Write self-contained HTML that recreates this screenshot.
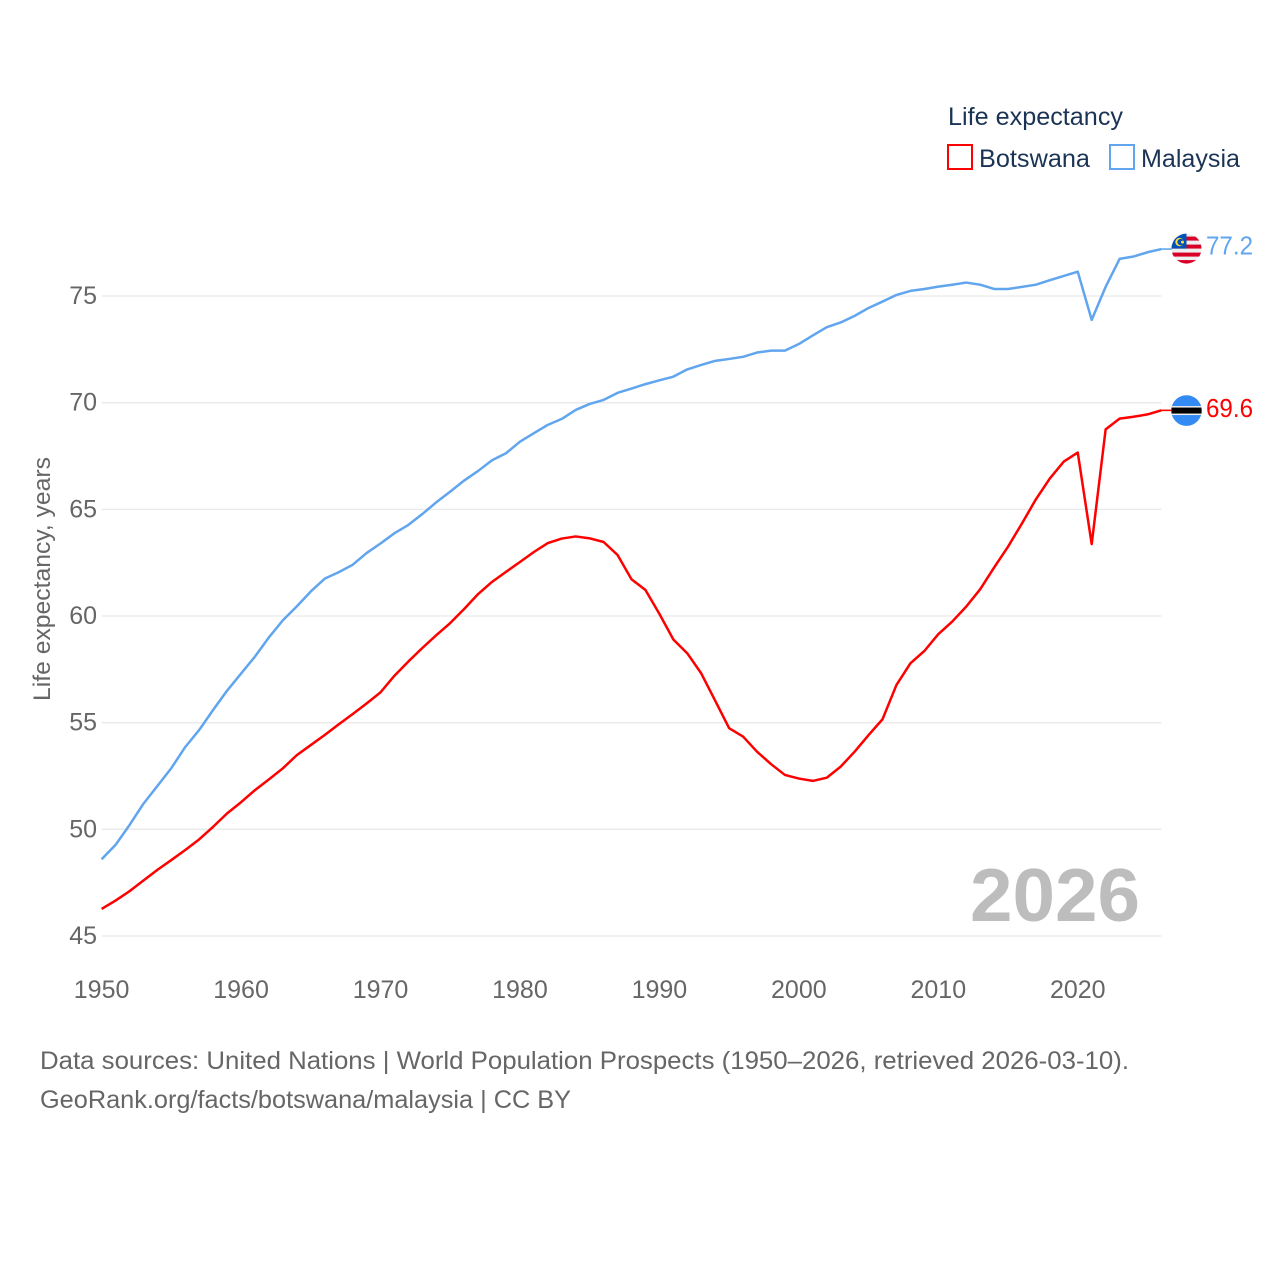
<!DOCTYPE html>
<html lang="en">
<head>
<meta charset="utf-8">
<title>Life expectancy: Botswana and Malaysia</title>
<style>
html,body{margin:0;padding:0;background:#fff;width:1280px;height:1280px;overflow:hidden}
svg{display:block}
text{font-family:"Liberation Sans",sans-serif}
.tick{font-size:25px;fill:#666}
.legend{font-size:25px;fill:#1b3455}
.foot{font-size:25px;fill:#666}
</style>
</head>
<body>
<svg id="chart" xmlns="http://www.w3.org/2000/svg" width="1280" height="1280" viewBox="0 0 1280 1280">
  <rect x="0" y="0" width="1280" height="1280" fill="#fff"/>
  <g id="grid"></g>
  <g id="yticks"></g>
  <g id="xticks"></g>
  <text transform="translate(50,701) rotate(-90)" font-size="24" fill="#666" textLength="244" lengthAdjust="spacingAndGlyphs">Life expectancy, years</text>

  <text x="970" y="921" font-size="75" font-weight="bold" fill="#bdbdbd" textLength="170" lengthAdjust="spacingAndGlyphs">2026</text>

  <g id="series"></g>

  <g id="flag-malaysia">
    <defs>
      <clipPath id="clip-flag"><circle cx="0" cy="0" r="15"/></clipPath>
    </defs>
    <g clip-path="url(#clip-flag)">
      <rect x="-15" y="-16" width="30" height="32" fill="#eeeeee"/>
      <rect x="-15" y="-12" width="30" height="4" fill="#d80027"/>
      <rect x="-15" y="-4" width="30" height="4" fill="#d80027"/>
      <rect x="-15" y="4" width="30" height="4" fill="#d80027"/>
      <rect x="-15" y="11.5" width="30" height="4" fill="#d80027"/>
      <rect x="-15" y="-16" width="15" height="16" fill="#0052b4"/>
      <circle cx="-7" cy="-6.5" r="4.2" fill="#ffda44"/>
      <circle cx="-5.8" cy="-6.5" r="3.3" fill="#0052b4"/>
      <circle cx="-4" cy="-6.5" r="1.5" fill="#ffda44"/>
    </g>
  </g>
  <g id="flag-botswana">
    <circle cx="0" cy="0" r="15.3" fill="#338af3"/>
    <rect x="-15" y="-4.5" width="30" height="9" fill="#eeeeee"/>
    <rect x="-15" y="-3" width="30" height="6" fill="#000"/>
  </g>
  <text id="label-malaysia" x="1206" font-size="26" fill="#60a5ee" textLength="47" lengthAdjust="spacingAndGlyphs"></text>
  <text id="label-botswana" x="1206" font-size="26" fill="#ff0000" textLength="47" lengthAdjust="spacingAndGlyphs"></text>

  <g>
    <text class="legend" x="948" y="125" textLength="175" lengthAdjust="spacingAndGlyphs">Life expectancy</text>
    <g>
      <rect x="948" y="145" width="24" height="24" fill="#fff" stroke="#ff0000" stroke-width="2"/>
      <text class="legend" x="979" y="167" textLength="111" lengthAdjust="spacingAndGlyphs">Botswana</text>
    </g>
    <g>
      <rect x="1110" y="145" width="24" height="24" fill="#fff" stroke="#60a5ee" stroke-width="2"/>
      <text class="legend" x="1141" y="167" textLength="99" lengthAdjust="spacingAndGlyphs">Malaysia</text>
    </g>
  </g>

  <text class="foot" x="40" y="1069" textLength="1089" lengthAdjust="spacingAndGlyphs">Data sources: United Nations | World Population Prospects (1950–2026, retrieved 2026-03-10).</text>
  <text class="foot" x="40" y="1108" textLength="531" lengthAdjust="spacingAndGlyphs">GeoRank.org/facts/botswana/malaysia | CC BY</text>
</svg>
<script>
const firstYear = 1950;
const yTickValues = [45, 50, 55, 60, 65, 70, 75];
const xTickValues = [1950, 1960, 1970, 1980, 1990, 2000, 2010, 2020];
const malaysiaValues = [
  48.6, 49.27, 50.2, 51.2, 52.03, 52.87, 53.86, 54.66, 55.6, 56.5,
  57.3, 58.1, 59.0, 59.8, 60.45, 61.15, 61.75, 62.05, 62.4, 62.95,
  63.4, 63.88, 64.27, 64.78, 65.33, 65.83, 66.35, 66.8, 67.3, 67.63,
  68.17, 68.57, 68.96, 69.24, 69.66, 69.94, 70.13, 70.46, 70.66, 70.87,
  71.05, 71.22, 71.56, 71.77, 71.96, 72.05, 72.15, 72.35, 72.44, 72.44,
  72.75, 73.15, 73.54, 73.76, 74.07, 74.44, 74.74, 75.05, 75.24, 75.33,
  75.44, 75.53, 75.63, 75.53, 75.33, 75.33, 75.43, 75.53, 75.74, 75.94,
  76.14, 73.88, 75.43, 76.74, 76.85, 77.05, 77.2
];
const botswanaValues = [
  46.27, 46.66, 47.1, 47.6, 48.1, 48.56, 49.03, 49.53, 50.12, 50.75,
  51.27, 51.84, 52.34, 52.86, 53.48, 53.95, 54.42, 54.92, 55.4, 55.9,
  56.42, 57.2, 57.87, 58.5, 59.1, 59.67, 60.33, 61.03, 61.6, 62.07,
  62.53, 63.0, 63.42, 63.63, 63.73, 63.64, 63.47, 62.86, 61.72, 61.22,
  60.1, 58.9, 58.25, 57.31, 56.03, 54.74, 54.35, 53.64, 53.06, 52.55,
  52.38, 52.27, 52.42, 52.94, 53.64, 54.42, 55.16, 56.77, 57.78, 58.36,
  59.15, 59.74, 60.44, 61.25, 62.27, 63.25, 64.34, 65.47, 66.45, 67.24,
  67.66, 63.37, 68.75, 69.25, 69.34, 69.45, 69.64
];

const NS = 'http://www.w3.org/2000/svg';
const xScale = function (year) { return 101.6 + (year - 1950) * 13.945; };
const yScale = function (v) { return 936 - (v - 45) * 21.333; };
const plotRight = xScale(2026);

function pointsFor(values) {
  return values.map(function (v, i) {
    return xScale(firstYear + i).toFixed(2) + ',' + yScale(v).toFixed(2);
  }).join(' ');
}

const gridLayer = document.getElementById('grid');
const yLayer = document.getElementById('yticks');
yTickValues.forEach(function (v) {
  const line = document.createElementNS(NS, 'line');
  
  
  line.setAttribute('x1', xScale(1950));
  line.setAttribute('x2', plotRight);
  line.setAttribute('y1', yScale(v));
  line.setAttribute('y2', yScale(v));
  line.setAttribute('stroke', '#e9e9e9');
  line.setAttribute('stroke-width', '1.3');
  gridLayer.appendChild(line);

  const label = document.createElementNS(NS, 'text');
  
  
  label.setAttribute('class', 'tick');
  label.setAttribute('x', 97);
  label.setAttribute('y', yScale(v) + 8);
  label.setAttribute('text-anchor', 'end');
  label.textContent = String(v);
  yLayer.appendChild(label);
});

const xLayer = document.getElementById('xticks');
xTickValues.forEach(function (year) {
  const label = document.createElementNS(NS, 'text');
  
  
  label.setAttribute('class', 'tick');
  label.setAttribute('x', xScale(year));
  label.setAttribute('y', 998);
  label.setAttribute('text-anchor', 'middle');
  label.textContent = String(year);
  xLayer.appendChild(label);
});

const seriesLayer = document.getElementById('series');

const malaysiaLine = document.createElementNS(NS, 'polyline');


malaysiaLine.setAttribute('points', pointsFor(malaysiaValues));
malaysiaLine.setAttribute('fill', 'none');
malaysiaLine.setAttribute('stroke', '#60a5ee');
malaysiaLine.setAttribute('stroke-width', '2.5');
malaysiaLine.setAttribute('stroke-linejoin', 'round');
seriesLayer.appendChild(malaysiaLine);

const botswanaLine = document.createElementNS(NS, 'polyline');


botswanaLine.setAttribute('points', pointsFor(botswanaValues));
botswanaLine.setAttribute('fill', 'none');
botswanaLine.setAttribute('stroke', '#ff0000');
botswanaLine.setAttribute('stroke-width', '2.5');
botswanaLine.setAttribute('stroke-linejoin', 'round');
seriesLayer.appendChild(botswanaLine);

const malaysiaLast = malaysiaValues[malaysiaValues.length - 1];
const botswanaLast = botswanaValues[botswanaValues.length - 1];

const malaysiaLead = document.createElementNS(NS, 'line');


malaysiaLead.setAttribute('x1', plotRight);
malaysiaLead.setAttribute('x2', plotRight + 12);
malaysiaLead.setAttribute('y1', yScale(malaysiaLast));
malaysiaLead.setAttribute('y2', yScale(malaysiaLast));
malaysiaLead.setAttribute('stroke', '#60a5ee');
malaysiaLead.setAttribute('stroke-width', '1.6');
seriesLayer.appendChild(malaysiaLead);

const botswanaLead = document.createElementNS(NS, 'line');


botswanaLead.setAttribute('x1', plotRight);
botswanaLead.setAttribute('x2', plotRight + 12);
botswanaLead.setAttribute('y1', yScale(botswanaLast));
botswanaLead.setAttribute('y2', yScale(botswanaLast));
botswanaLead.setAttribute('stroke', '#ff0000');
botswanaLead.setAttribute('stroke-width', '1.6');
seriesLayer.appendChild(botswanaLead);

document.getElementById('flag-malaysia').setAttribute('transform', 'translate(1186.5,' + (yScale(malaysiaLast) - 0.5) + ')');
document.getElementById('flag-botswana').setAttribute('transform', 'translate(1186.5,' + (yScale(botswanaLast) + 0.2) + ')');

const malaysiaLabel = document.getElementById('label-malaysia');
malaysiaLabel.setAttribute('y', yScale(malaysiaLast) + 5.5);
malaysiaLabel.textContent = malaysiaLast.toFixed(1);

const botswanaLabel = document.getElementById('label-botswana');
botswanaLabel.setAttribute('y', yScale(botswanaLast) + 6.5);
botswanaLabel.textContent = botswanaLast.toFixed(1);
</script>
</body>
</html>
